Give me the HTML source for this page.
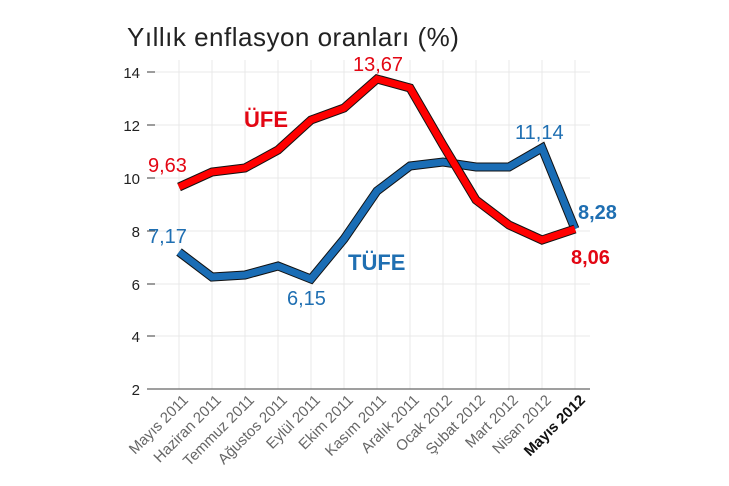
<!DOCTYPE html><html><head><meta charset="utf-8"><style>body{margin:0;background:#fff}svg{display:block}</style></head><body>
<svg width="729" height="486" xmlns="http://www.w3.org/2000/svg" font-family="Liberation Sans, sans-serif">
<text x="127" y="46" font-size="26" letter-spacing="0.5" fill="#222">Yıllık enflasyon oranları (%)</text>
<g stroke="#e8e8e8" stroke-width="1">
<line x1="179" y1="60" x2="179" y2="389"/><line x1="212" y1="60" x2="212" y2="389"/><line x1="245" y1="60" x2="245" y2="389"/><line x1="278" y1="60" x2="278" y2="389"/><line x1="311" y1="60" x2="311" y2="389"/><line x1="344" y1="60" x2="344" y2="389"/><line x1="377" y1="60" x2="377" y2="389"/><line x1="410" y1="60" x2="410" y2="389"/><line x1="443" y1="60" x2="443" y2="389"/><line x1="476" y1="60" x2="476" y2="389"/><line x1="509" y1="60" x2="509" y2="389"/><line x1="542" y1="60" x2="542" y2="389"/><line x1="575" y1="60" x2="575" y2="389"/>
<line x1="147" y1="72" x2="590" y2="72"/><line x1="147" y1="125" x2="590" y2="125"/><line x1="147" y1="178" x2="590" y2="178"/><line x1="147" y1="231" x2="590" y2="231"/><line x1="147" y1="284" x2="590" y2="284"/><line x1="147" y1="336" x2="590" y2="336"/>
</g>
<g stroke="#666" stroke-width="1.3"><line x1="147" y1="389" x2="590" y2="389"/>
<line x1="147" y1="72" x2="155" y2="72"/><line x1="147" y1="125" x2="155" y2="125"/><line x1="147" y1="178" x2="155" y2="178"/><line x1="147" y1="231" x2="155" y2="231"/><line x1="147" y1="284" x2="155" y2="284"/><line x1="147" y1="336" x2="155" y2="336"/></g>
<g font-size="15" fill="#222" text-anchor="end">
<text x="140" y="78">14</text><text x="140" y="131">12</text><text x="140" y="184">10</text><text x="140" y="237">8</text><text x="140" y="290">6</text><text x="140" y="342">4</text><text x="140" y="395">2</text></g>
<g fill="none" stroke-linejoin="miter">
<polyline stroke="#111" stroke-width="9" points="179,252 212,277 245,275 278,266 311,279 344,239 377,191 410,166 443,162 476,167 509,167 542,148 575,229"/>
<polyline stroke="#1a6db5" stroke-width="7" points="179,252 212,277 245,275 278,266 311,279 344,239 377,191 410,166 443,162 476,167 509,167 542,148 575,229"/>
<polyline stroke="#111" stroke-width="9" points="179,187 212,172 245,168 278,150 311,120 344,108 377,79 410,88 443,145 476,200 509,225 542,240 575,229"/>
<polyline stroke="#ff0000" stroke-width="7" points="179,187 212,172 245,168 278,150 311,120 344,108 377,79 410,88 443,145 476,200 509,225 542,240 575,229"/>
</g>
<g font-size="20">
<text x="148" y="172" fill="#e30613">9,63</text>
<text x="353" y="71" fill="#e30613">13,67</text>
<text x="244" y="127" fill="#e30613" font-weight="bold" font-size="22">ÜFE</text>
<text x="571" y="264" fill="#e30613" font-weight="bold">8,06</text>
<text x="148" y="243" fill="#1f6fb2">7,17</text>
<text x="287" y="305" fill="#1f6fb2">6,15</text>
<text x="348" y="270" fill="#1f6fb2" font-weight="bold" font-size="22">TÜFE</text>
<text x="515" y="139" fill="#1f6fb2">11,14</text>
<text x="578" y="219" fill="#1f6fb2" font-weight="bold">8,28</text>
</g>
<g font-size="15" fill="#666" text-anchor="end">
<text transform="translate(189,401) rotate(-45)">Mayıs 2011</text>
<text transform="translate(222,401) rotate(-45)">Haziran 2011</text>
<text transform="translate(255,401) rotate(-45)">Temmuz 2011</text>
<text transform="translate(288,401) rotate(-45)">Ağustos 2011</text>
<text transform="translate(321,401) rotate(-45)">Eylül 2011</text>
<text transform="translate(354,401) rotate(-45)">Ekim 2011</text>
<text transform="translate(387,401) rotate(-45)">Kasım 2011</text>
<text transform="translate(420,401) rotate(-45)">Aralık 2011</text>
<text transform="translate(453,401) rotate(-45)">Ocak 2012</text>
<text transform="translate(486,401) rotate(-45)">Şubat 2012</text>
<text transform="translate(519,401) rotate(-45)">Mart 2012</text>
<text transform="translate(552,401) rotate(-45)">Nisan 2012</text>
<text transform="translate(586,401) rotate(-45)" fill="#111" font-weight="bold">Mayıs 2012</text>
</g>
</svg></body></html>
